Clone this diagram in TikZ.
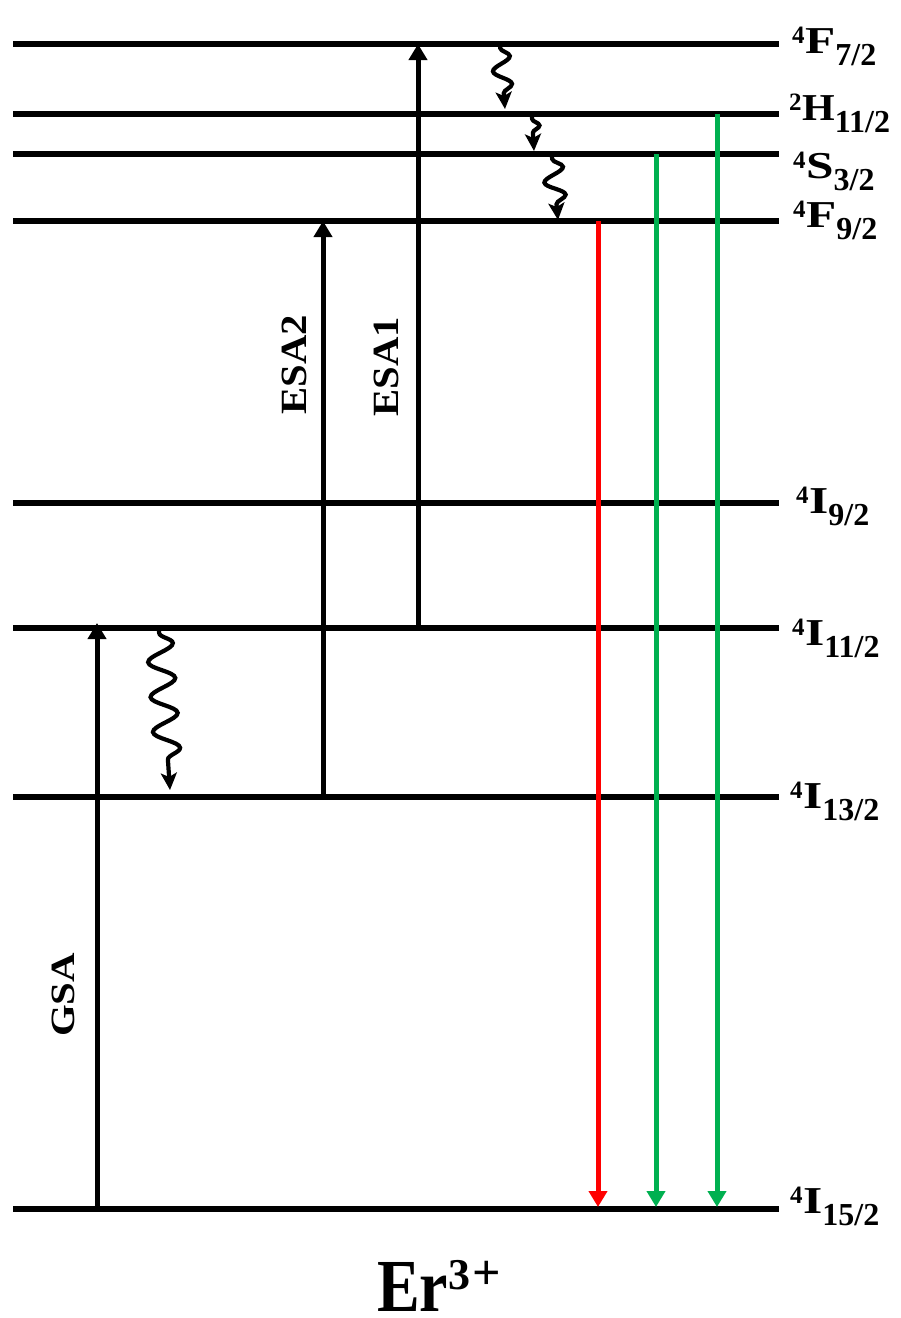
\documentclass[tikz,border=0pt]{standalone}
\usepackage{fontspec}
\setmainfont{Liberation Serif}
\usepackage{graphicx}
\usetikzlibrary{arrows.meta,decorations.pathmorphing}
\definecolor{emred}{RGB}{255,0,0}
\definecolor{emgreen}{RGB}{0,176,80}
\newcommand\levlab[3]{\bfseries\raisebox{10pt}{\fontsize{25}{25}\selectfont #1}\kern0.5pt{\fontsize{38}{38}\selectfont\scalebox{1.3}[1]{#2}}\raisebox{-12pt}{\fontsize{32}{32}\selectfont #3}}
\begin{document}
\begin{tikzpicture}[x=1pt,y=-1pt,
  level/.style={line width=5.5pt},
  uparrow/.style={line width=5pt,-{Triangle[width=18pt,length=16pt]}},
  emit/.style={line width=5pt,-{Triangle[width=18pt,length=16pt]}},
  relax/.style={line width=4.2pt,-{Stealth[width=16pt,length=17pt,inset=4pt]},
    decorate,decoration={snake,amplitude=#1,segment length=30pt,pre length=2pt,post length=14pt}},
  levlabel/.style={anchor=base west,inner sep=0pt},
  rotlab/.style={rotate=90,inner sep=0pt}]
\useasboundingbox (0,0) rectangle (901,1318);
% levels
\foreach \n/\y in {F72/44,H112/114,S32/154,F92/221,I92/503,I112/628,I132/797,I152/1209}{
  \coordinate (\n l) at (13,\y);
  \coordinate (\n r) at (779,\y);
  \draw[level] (\n l) -- (\n r);
}
% level labels
\node[levlabel] (lF72) at (792,53) {\levlab{4}{F}{7/2}};
\node[levlabel] (lH112) at (789,120) {\levlab{2}{\scalebox{0.85}[1]{H}}{11/2}};
\node[levlabel] (lS32) at (793,178) {\levlab{4}{S}{3/2}};
\node[levlabel] (lF92) at (793,227) {\levlab{4}{F}{9/2}};
\node[levlabel] (lI92) at (796,513) {\levlab{4}{I}{9/2}};
\node[levlabel] (lI112) at (792,645) {\levlab{4}{I}{11/2}};
\node[levlabel] (lI132) at (790,808) {\levlab{4}{I}{13/2}};
\node[levlabel] (lI152) at (790,1213) {\levlab{4}{I}{15/2}};
% absorption arrows
\coordinate (gsaS) at (97,1209);
\coordinate (gsaE) at (97,623);
\coordinate (esa2S) at (323,797);
\coordinate (esa2E) at (323,221);
\coordinate (esa1S) at (418,628);
\coordinate (esa1E) at (418,44);
\draw[uparrow] (gsaS) -- (gsaE);
\draw[uparrow] (esa2S) -- (esa2E);
\draw[uparrow] (esa1S) -- (esa1E);
\node[rotlab] (gsa) at (63,995) {\scalebox{1.2}[1]{\fontsize{34}{34}\selectfont\bfseries GSA}};
\node[rotlab] (esa2) at (294,365) {\scalebox{1.1}[1]{\fontsize{37}{37}\selectfont\bfseries ESA2}};
\node[rotlab] (esa1) at (386,367) {\scalebox{1.1}[1]{\fontsize{37}{37}\selectfont\bfseries ESA1}};
% emission arrows
\coordinate (redS) at (598,221);
\coordinate (redE) at (598,1207);
\coordinate (g1S) at (656,154);
\coordinate (g1E) at (656,1207);
\coordinate (g2S) at (717,114);
\coordinate (g2E) at (717,1207);
\draw[emit,emred] (redS) -- (redE);
\draw[emit,emgreen] (g1S) -- (g1E);
\draw[emit,emgreen] (g2S) -- (g2E);
% non-radiative relaxations
\coordinate (w0S) at (159,631);
\coordinate (w0E) at (170,790);
\draw[relax=13pt,decoration={segment length=35pt,post length=16pt}] (w0S) -- (w0E);
\coordinate (w1S) at (500,46);
\coordinate (w1E) at (505,109);
\draw[relax=9pt,decoration={segment length=28pt}] (w1S) -- (w1E);
\coordinate (w2S) at (532,117);
\coordinate (w2E) at (534,151);
\draw[relax=7pt,decoration={segment length=22pt,post length=12pt}] (w2S) -- (w2E);
\coordinate (w3S) at (552,157);
\coordinate (w3E) at (558,220);
\draw[relax=10pt,decoration={segment length=28pt}] (w3S) -- (w3E);
% ion label
\node[anchor=base west,inner sep=0pt] (er) at (377,1311) {\raisebox{0pt}[\height][0pt]{\bfseries\scalebox{1}[1.17]{\fontsize{64}{64}\selectfont Er}\raisebox{22pt}{\fontsize{44}{44}\selectfont 3\kern2pt{\fontsize{50}{50}\selectfont +}}}};
\end{tikzpicture}
\end{document}
